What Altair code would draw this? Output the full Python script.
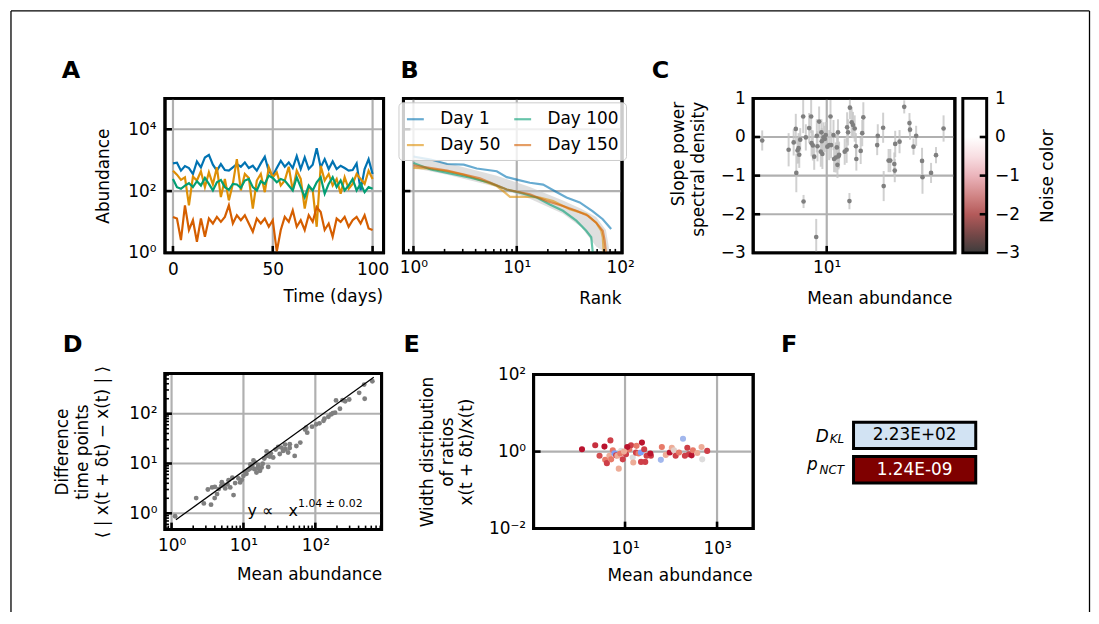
import altair as alt
import pandas as pd

W, H = 1090, 606
FONT = "DejaVu Sans"
GRID = "#b0b0b0"
FS = 17
U = alt.Undefined

# ---------------- Panel A : abundance time series ----------------
A_days = list(range(0, 101, 2))
A_sp1 = [786, 826, 458, 644, 557, 357, 911, 585, 1224, 1489, 713, 458, 748, 481, 458, 585, 748, 614, 846, 557,
         662, 458, 786, 1285, 436, 316, 557, 957, 614, 846, 557, 1349, 517, 1224, 517, 713, 2437, 585, 1082, 517,
         911, 517, 662, 557, 458, 481, 786, 105, 517, 1082, 357]
A_sp2 = [458, 340, 230, 280, 34.5, 294, 219, 436, 134, 404, 163, 585, 64, 247, 50, 171, 1082, 105, 357, 266,
         27, 219, 357, 92, 585, 280, 404, 151, 219, 614, 105, 458, 247, 27, 134, 105, 7.0, 662, 219, 357,
         151, 247, 82, 280, 118, 171, 357, 247, 171, 458, 247]
A_sp3 = [247, 134, 118, 151, 180, 134, 208, 151, 266, 171, 105, 193, 230, 134, 110, 171, 163, 127, 219, 247,
         134, 105, 208, 171, 316, 266, 193, 247, 219, 151, 105, 280, 134, 64, 151, 105, 193, 280, 82, 171,
         280, 134, 219, 105, 151, 247, 105, 171, 92, 134, 118]
A_sp4 = [14.6, 12.9, 2.6, 34.5, 5.5, 11.4, 2.3, 12.9, 3.3, 12.9, 8.9, 14.6, 10.1, 14.6, 34.5, 8.9, 16.5, 11.4,
         16.5, 8.9, 4.8, 12.9, 8.9, 12.9, 7.0, 11.4, 1.1, 5.5, 14.6, 10.1, 23.9, 7.0, 11.4, 5.5, 16.5, 10.1,
         30.5, 21.1, 5.5, 8.9, 3.3, 12.9, 10.1, 14.6, 7.0, 11.4, 14.6, 8.9, 16.5, 6.2, 5.5]
A_names = ["sp1", "sp2", "sp3", "sp4"]
PALETTE = ["#0173b2", "#de8f05", "#029e73", "#d55e00"]

# ---------------- Panel B : rank abundance ----------------
B_days = ["Day 1", "Day 50", "Day 100", "Day 150"]
B_rank_1 = [1, 1.47, 2.12, 3.07, 4.1, 6.4, 8.0, 10, 13.4, 18, 24.2, 30.3, 40.7, 54.5, 68, 82]
B_val_1 = [1318, 1047, 750, 716, 537, 437, 282, 234, 186, 162, 93, 62, 43, 22, 12.3, 5.9]
B_rank_50 = [1, 1.36, 2.12, 3.07, 4.78, 6.4, 7.4, 8.6, 13.4, 16.7, 22.5, 32.5, 47, 58.7, 65.7, 68, 69.5]
B_val_50 = [562, 537, 437, 339, 209, 145, 100, 65, 65, 62, 48, 26, 17.8, 9.5, 5.2, 3.2, 1.0]
B_rank_100 = [1, 1.47, 2.12, 3.56, 5.5, 8.0, 10.7, 15.6, 20.9, 28, 37.7, 47, 52.6, 54.5]
B_val_100 = [813, 501, 389, 269, 186, 112, 89, 62, 37, 23, 11, 5.2, 3.2, 1.0]
B_rank_150 = [1, 2.12, 4.4, 8.0, 13.4, 19.4, 28, 37.7, 49, 58.7, 68, 71, 73]
B_val_150 = [676, 457, 257, 112, 78, 48, 33, 23, 15.8, 9.5, 5.2, 2.5, 1.0]
B_band_rank = [1, 2.12, 6.4, 13.4, 28, 42, 58.7, 73, 78]
B_band_lo = [562, 339, 135, 56, 18.6, 6.9, 1.6, 1.0, 1.0]
B_band_hi = [1318, 813, 316, 135, 50, 27, 14.5, 5.5, 1.5]

# ---------------- Panel C : PSD slope ----------------
C_mean = [3.69, 5.55, 6.0, 6.2, 6.25, 6.37, 6.47, 6.54, 6.64, 6.95, 6.99, 7.24, 7.62, 7.86, 7.91, 8.07, 8.24,
          8.58, 8.67, 8.89, 9.12, 9.21, 9.26, 9.35, 9.5, 9.7, 9.85, 10.1, 10.4, 10.6, 10.7, 11.1, 11.2, 11.5,
          11.7, 11.8, 11.9, 12.0, 12.1, 8.5, 13.2, 13.6, 13.7, 13.9, 14.2, 14.3, 14.7, 15.0, 15.4, 15.7, 15.8,
          16.9, 17.3, 17.6, 21.8, 22.0, 23.9, 24.1, 26.0, 26.7, 28.4, 28.6, 28.8, 30.8, 33.1, 35.9, 36.2, 38.2,
          39.8, 43.6, 43.9, 50.1, 54.1, 60.8]
C_slope = [-0.09, -0.33, -0.14, 0.21, -0.93, -0.35, -0.29, -0.46, -0.07, 0.53, -1.67, -0.01, 0.23, 0.53, -0.16,
           -0.22, -0.51, 0.03, -0.24, 0.40, -0.38, 0.12, -0.11, -0.44, -0.01, -0.05, 0.05, -0.25, -0.21, 0.53,
           -0.21, 0.05, -0.57, -0.53, -0.27, -0.72, 0.12, -0.50, -0.46, -2.59, -0.38, -0.33, 0.25, 0.12, -1.66,
           0.76, 0.38, 0.31, 0.22, -0.24, -0.57, -0.36, 0.10, 0.51, -0.21, 0.03, 0.24, -1.27, -0.61, -0.61,
           -0.70, -0.87, -0.18, -0.12, 0.78, 0.36, 0.19, -0.25, 0.03, -0.62, -1.04, -0.93, -0.47, 0.22]
C_err = [0.26, 0.43, 0.34, 0.39, 0.50, 0.34, 0.39, 0.34, 0.30, 0.43, 0.17, 0.34, 0.39, 0.43, 0.34, 0.39, 0.34,
         0.43, 0.39, 0.39, 0.39, 0.34, 0.34, 0.39, 0.39, 0.34, 0.34, 0.34, 0.39, 0.43, 0.34, 0.39, 0.34, 0.39,
         0.34, 0.34, 0.34, 0.34, 0.34, 0.47, 0.34, 0.34, 0.39, 0.34, 0.21, 0.30, 0.39, 0.34, 0.34, 0.34, 0.30,
         0.34, 0.34, 0.39, 0.26, 0.30, 0.39, 0.39, 0.30, 0.30, 0.30, 0.30, 0.34, 0.30, 0.17, 0.26, 0.26, 0.21,
         0.26, 0.34, 0.43, 0.26, 0.21, 0.34]
CB_stops = [(0.0, "#3c3c3c"), (0.12, "#764848"), (0.25, "#b45a5a"), (0.36, "#cf8282"), (0.5, "#ebb4bb"),
            (0.62, "#f8dde1"), (0.75, "#ffffff"), (1.0, "#ffffff")]

# ---------------- Panel D : Taylor law ----------------
D_mean = [1.12, 2.2, 2.81, 3.54, 3.66, 3.98, 4.29, 4.52, 4.92, 5.3, 5.58, 6.21, 6.55, 7.28, 7.67, 8.53, 8.99,
          10.0, 10.5, 11.7, 12.4, 13.3, 14.2, 14.5, 15.2, 16.1, 17.0, 17.9, 19.5, 20.9, 22.1, 23.3, 25.9, 30.4,
          33.8, 35.6, 38.3, 41.8, 44.1, 51.6, 54.5, 61.8, 74.6, 77.1, 103, 114, 134, 152, 165, 188, 194, 220,
          239, 296, 407, 478, 486, 621,
          3.2, 4.0, 5.0, 6.0, 7.0, 9.5, 11.0, 12.5, 13.8, 15.8, 18.5, 21.0, 24.0, 28.0, 32.0, 38.0, 44.0, 72.0,
          90.0, 130, 175, 260]
D_diff = [0.87, 2.02, 1.58, 1.49, 3.31, 2.02, 2.43, 3.06, 3.56, 3.73, 3.16, 4.63, 3.31, 2.32, 4.04, 5.01, 4.17,
          5.65, 6.79, 7.45, 7.94, 8.95, 7.69, 10.5, 6.61, 9.38, 7.11, 8.32, 12.6, 14.2, 8.55, 13.8, 13.2, 21.5,
          20.9, 17.9, 19.3, 16.6, 24.3, 14.2, 22.5, 26.3, 52.5, 41.7, 61.1, 64.0, 79.4, 87.1, 96.8, 105, 185,
          126, 187, 193, 263, 385, 200, 449,
          3.0, 3.4, 4.2, 3.8, 5.2, 4.7, 6.2, 9.6, 11.5, 8.2, 9.9, 17.5, 16.0, 19.0, 15.5, 24.0, 20.5, 48.0,
          55.0, 72.0, 102, 178]
D_fit_x = [1.15, 650]
D_fit_y = [0.74, 538]

# ---------------- Panel E : width of ratio distribution ----------------
E_mean = [1.16, 2.25, 2.79, 3.57, 3.70, 4.03, 4.57, 4.81, 5.42, 5.87, 6.40, 6.82, 7.31, 8.20, 8.91, 10.5, 12.4,
          13.5, 14.7, 15.1, 17.3, 19.7, 22.1, 23.3, 26.1, 27.5, 29.4, 22.3, 36.5, 60.0, 63.1, 76.9, 93.8, 104,
          116, 126, 149, 182, 200, 226, 245, 280, 299, 372, 460, 476, 611, 7.9, 11.2, 5.0, 17.8, 35.5, 9.5]
E_width = [1.15, 1.46, 0.78, 1.35, 0.61, 0.50, 0.78, 1.95, 1.08, 0.90, 0.80, 0.78, 0.36, 1.04, 0.63, 0.85, 1.15,
           1.46, 0.70, 0.52, 0.94, 0.89, 0.95, 1.71, 1.15, 0.54, 0.78, 0.54, 0.78, 0.61, 1.32, 0.82, 0.95, 1.26,
           1.08, 0.78, 0.95, 2.16, 0.78, 1.26, 0.85, 0.80, 1.08, 0.92, 1.32, 0.63, 1.04, 0.89, 1.32, 0.63, 1.41,
           0.89, 1.0]
E_color = [0.95, 0.85, 0.75, 0.95, 0.6, 0.8, 0.35, 0.8, 0.6, -0.5, 0.8, 0.35, 0.35, 0.0, 0.8, 0.8, 0.6, 0.8, 0.0,
           0.35, 0.8, 0.6, -0.5, 0.95, 0.8, 0.8, 0.8, 0.8, 0.8, -0.3, 0.6, 0.35, 0.95, 0.35, 0.1, 0.8, 0.6, -0.3,
           0.8, 0.8, 0.8, 0.95, 0.6, 0.35, 0.35, 0.0, 0.8, 0.6, 0.95, 0.6, 0.6, 0.95, 0.35]

# ---------------- Panel F : statistics ----------------
F_keys = ["D_KL", "p_NCT"]
F_main = ["D", "p"]
F_sub = ["KL", "NCT"]
F_vals = ["2.23E+02", "1.24E-09"]
F_fill = ["#d2e3f3", "#7f0000"]
F_textc = ["black", "white"]

LETTERS = ["A", "B", "C", "D", "E", "F"]

SUP = ("'10' + (datum.value < 1 ? '\u207b' : '') + substring('\u2070\u00b9\u00b2\u00b3\u2074\u2075\u2076\u2077\u2078\u2079', "
       "abs(round(log(datum.value)/LN10)), abs(round(log(datum.value)/LN10)) + 1)")


def S(typ, dom, rng):
    if typ == "log":
        return alt.Scale(type="log", domain=dom, range=rng, nice=False)
    return alt.Scale(type="linear", domain=dom, range=rng, nice=False, zero=False)


def ax_bottom(pb, values, title, tx, ty, pad=8, expr=None):
    d = dict(orient="bottom", offset=pb - H, values=values, ticks=False, domain=False, grid=False,
             labelPadding=pad, labelFlush=False, labelOverlap=False, labelBound=False,
             title=title, titleX=tx, titleY=ty, titleAlign="right", titleBaseline="middle", titleAngle=0)
    if expr:
        d["labelExpr"] = expr
    return alt.Axis(**d)


def ax_left(pl, values, title, tx, ty, pad=8, expr=None, align="center", fmt=None):
    d = dict(orient="left", offset=-pl, values=values, ticks=False, domain=False, grid=False,
             labelPadding=pad, labelFlush=False, labelOverlap=False, labelBound=False,
             title=title, titleX=tx, titleY=ty, titleAngle=270, titleAlign=align, titleBaseline="middle",
             titleLineHeight=20)
    if expr:
        d["labelExpr"] = expr
    if fmt:
        d["format"] = fmt
    return alt.Axis(**d)


def frame(xs, ys, xdom, ydom, xax, yax):
    df = pd.DataFrame({"x0": [xdom[0]], "x1": [xdom[1]], "y0": [ydom[0]], "y1": [ydom[1]]})
    return alt.Chart(df).mark_rect(fillOpacity=0, stroke="black", strokeWidth=3).encode(
        x=alt.X("x0:Q", scale=xs, axis=xax), x2=alt.X2("x1"),
        y=alt.Y("y0:Q", scale=ys, axis=yax), y2=alt.Y2("y1"))


def vgrid(vals, xs, ys, ydom, xa=U, ya=U):
    df = pd.DataFrame({"g": vals, "y0": ydom[0], "y1": ydom[1]})
    return alt.Chart(df).mark_rule(color=GRID, strokeWidth=2.2).encode(
        x=alt.X("g:Q", scale=xs, axis=xa), y=alt.Y("y0:Q", scale=ys, axis=ya), y2=alt.Y2("y1"))


def hgrid(vals, xs, ys, xdom, xa=U, ya=U):
    df = pd.DataFrame({"g": vals, "x0": xdom[0], "x1": xdom[1]})
    return alt.Chart(df).mark_rule(color=GRID, strokeWidth=2.2).encode(
        y=alt.Y("g:Q", scale=ys, axis=ya), x=alt.X("x0:Q", scale=xs, axis=xa), x2=alt.X2("x1"))


def xticks(vals, xs, ys, yv, size=7, thick=2.6, up=True, xa=U, ya=U):
    df = pd.DataFrame({"t": vals, "y": yv})
    return alt.Chart(df).mark_tick(orient="vertical", size=size, thickness=thick, color="black", opacity=1,
                                   yOffset=(-size / 2 if up else size / 2)).encode(
        x=alt.X("t:Q", scale=xs, axis=xa), y=alt.Y("y:Q", scale=ys, axis=ya))


def yticks(vals, xs, ys, xv, size=7, thick=2.6, right=True, xa=U, ya=U):
    df = pd.DataFrame({"t": vals, "x": xv})
    return alt.Chart(df).mark_tick(orient="horizontal", size=size, thickness=thick, color="black", opacity=1,
                                   xOffset=(size / 2 if right else -size / 2)).encode(
        y=alt.Y("t:Q", scale=ys, axis=ya), x=alt.X("x:Q", scale=xs, axis=xa))


layers = []

# ---- Panel A ----
ax_dom, ay_dom = [-4, 105.5], [1, 1e5]
axs, ays = S("linear", ax_dom, [158, 378]), S("log", ay_dom, [244.5, 89])
A_df = pd.DataFrame({"t": A_days * 4, "v": A_sp1 + A_sp2 + A_sp3 + A_sp4,
                     "sp": sum([[n] * len(A_days) for n in A_names], [])})
layers.append(alt.layer(
    frame(axs, ays, ax_dom, ay_dom,
          ax_bottom(244.5, [0, 50, 100], "Time (days)", 377, 44, pad=9),
          ax_left(158, [1, 100, 10000], "Abundance", -61.5, 166.75, pad=9, expr=SUP)),
    vgrid([0, 50, 100], axs, ays, ay_dom),
    hgrid([100, 10000], axs, ays, ax_dom),
    alt.Chart(A_df).mark_line(strokeWidth=2.2).encode(
        x=alt.X("t:Q", scale=axs), y=alt.Y("v:Q", scale=ays),
        color=alt.Color("sp:N", scale=alt.Scale(domain=A_names, range=PALETTE), legend=None)),
    frame(axs, ays, ax_dom, ay_dom, U, U),
    xticks([0, 50, 100], axs, ays, ay_dom[0]),
    yticks([100, 10000], axs, ays, ax_dom[0]),
))

# ---- Panel B ----
bx_dom, by_dom = [0.8, 104.5], [1, 1e5]
bxs, bys = S("log", bx_dom, [398, 618]), S("log", by_dom, [244.5, 89])
B_df = pd.DataFrame({
    "rank": B_rank_1 + B_rank_50 + B_rank_100 + B_rank_150,
    "v": B_val_1 + B_val_50 + B_val_100 + B_val_150,
    "day": (["Day 1"] * len(B_rank_1) + ["Day 50"] * len(B_rank_50) + ["Day 100"] * len(B_rank_100)
            + ["Day 150"] * len(B_rank_150))})
B_band = pd.DataFrame({"rank": B_band_rank, "lo": B_band_lo, "hi": B_band_hi})
legB = alt.Legend(orient="none", legendX=393, legendY=93, columns=2, title=None, symbolType="stroke",
                  symbolSize=289, symbolStrokeWidth=2.2, symbolOpacity=0.6, labelFontSize=FS, labelFont=FONT,
                  labelColor="black", labelOffset=15, columnPadding=9, rowPadding=8, padding=7,
                  fillColor="rgba(255,255,255,0.8)", strokeColor="#cccccc", cornerRadius=4)
layers.append(alt.layer(
    frame(bxs, bys, bx_dom, by_dom,
          ax_bottom(244.5, [1, 10, 100], "Rank", 617, 45.5, pad=7, expr=SUP), None),
    vgrid([1, 10], bxs, bys, by_dom, ya=None),
    hgrid([100, 10000], bxs, bys, bx_dom, ya=None),
    alt.Chart(B_band).mark_area(color="#c0c0c0", opacity=0.5).encode(
        x=alt.X("rank:Q", scale=bxs), y=alt.Y("lo:Q", scale=bys, axis=None), y2=alt.Y2("hi")),
    alt.Chart(B_df).mark_line(strokeWidth=2.2, opacity=0.6).encode(
        x=alt.X("rank:Q", scale=bxs), y=alt.Y("v:Q", scale=bys, axis=None),
        color=alt.Color("day:N", scale=alt.Scale(domain=B_days, range=PALETTE), legend=legB)),
    frame(bxs, bys, bx_dom, by_dom, U, None),
    xticks([1, 10], bxs, bys, by_dom[0], ya=None),
    xticks([0.9, 2, 3, 4, 5, 6, 7, 8, 9, 20, 30, 40, 50, 60, 70, 80, 90], bxs, bys, by_dom[0], size=4,
           thick=1.6, ya=None),
    yticks([100, 10000], bxs, bys, bx_dom[0], ya=None),
))

# ---- Panel C ----
cx_dom, cy_dom = [3.21, 72.4], [-3, 1]
cxs, cys = S("log", cx_dom, [750, 953]), S("linear", cy_dom, [244.5, 89])
C_df = pd.DataFrame({"m": C_mean, "s": C_slope,
                     "lo": [max(-3, s - e) for s, e in zip(C_slope, C_err)],
                     "hi": [min(1, s + e) for s, e in zip(C_slope, C_err)]})
layers.append(alt.layer(
    frame(cxs, cys, cx_dom, cy_dom,
          ax_bottom(244.5, [10], "Mean abundance", 950, 45.8, pad=7, expr=SUP),
          ax_left(750, [-3, -2, -1, 0, 1], ["Slope power", "spectral density"], -75, 92, pad=8,
                  align="right", fmt="d")),
    vgrid([10], cxs, cys, cy_dom),
    hgrid([-2, -1, 0], cxs, cys, cx_dom),
    alt.Chart(C_df).mark_rule(color="#c4c4c4", strokeWidth=2, opacity=0.8).encode(
        x=alt.X("m:Q", scale=cxs), y=alt.Y("lo:Q", scale=cys), y2=alt.Y2("hi")),
    alt.Chart(C_df).mark_circle(size=22, color="#7f7f7f", opacity=1).encode(
        x=alt.X("m:Q", scale=cxs), y=alt.Y("s:Q", scale=cys)),
    frame(cxs, cys, cx_dom, cy_dom, U, U),
    xticks([10], cxs, cys, cy_dom[0]),
    yticks([-2, -1, 0], cxs, cys, cx_dom[0]),
))

# ---- Colorbar ----
cbxs, cbys = S("linear", [0, 1], [961, 985]), S("linear", cy_dom, [244.5, 89])
grad = alt.LinearGradient(gradient="linear", x1=0, x2=0, y1=1, y2=0,
                          stops=[alt.GradientStop(color=c, offset=o) for o, c in CB_stops])
cb_axis = alt.Axis(orient="right", offset=985 - W, values=[-3, -2, -1, 0, 1], format="d", ticks=False,
                   domain=False, grid=False, labelPadding=8, labelFlush=False, labelOverlap=False,
                   title="Noise color", titleX=61, titleY=166.75, titleAngle=270, titleAlign="center",
                   titleBaseline="middle")
layers.append(alt.layer(
    alt.Chart(pd.DataFrame({"x0": [0], "x1": [1], "y0": [-3], "y1": [1]})).mark_rect(
        fill=grad, stroke="black", strokeWidth=3).encode(
        x=alt.X("x0:Q", scale=cbxs, axis=None), x2=alt.X2("x1"),
        y=alt.Y("y0:Q", scale=cbys, axis=cb_axis), y2=alt.Y2("y1")),
    yticks([-2, -1, 0], cbxs, cbys, 1, right=False, xa=None),
))

# ---- Panel D ----
dx_dom, dy_dom = [0.81, 835], [0.47, 640]
dxs, dys = S("log", dx_dom, [158, 376]), S("log", dy_dom, [523, 366])
D_df = pd.DataFrame({"m": D_mean, "d": D_diff})
D_fit = pd.DataFrame({"x": D_fit_x, "y": D_fit_y})
D_minor_y = [0.5, 0.6, 0.7, 0.8, 0.9, 2, 3, 4, 5, 6, 7, 8, 9, 20, 30, 40, 50, 60, 70, 80, 90,
             200, 300, 400, 500, 600]
D_minor_x = [0.9, 2, 3, 4, 5, 6, 7, 8, 9, 20, 30, 40, 50, 60, 70, 80, 90, 200, 300, 400, 500, 600, 700, 800]
NB = "\u00a0"
layers.append(alt.layer(
    frame(dxs, dys, dx_dom, dy_dom,
          ax_bottom(523, [1, 10, 100], "Mean abundance", 376, 45.7, pad=8, expr=SUP),
          ax_left(158, [1, 10, 100], ["Difference", "time points",
                                      "\u27e8 | x(t + \u03b4t) \u2212 x(t) | \u27e9"], -103, 444.5, pad=8,
                  expr=SUP)),
    vgrid([1, 10, 100], dxs, dys, dy_dom),
    hgrid([1, 10, 100], dxs, dys, dx_dom),
    alt.Chart(D_df).mark_circle(size=24, color="#7f7f7f", opacity=1).encode(
        x=alt.X("m:Q", scale=dxs), y=alt.Y("d:Q", scale=dys)),
    alt.Chart(D_fit).mark_line(color="black", strokeWidth=1.3).encode(
        x=alt.X("x:Q", scale=dxs), y=alt.Y("y:Q", scale=dys)),
    alt.Chart(pd.DataFrame({"x": [11.4], "y": [0.895], "t": ["y" + NB + "\u221d" + NB * 3 + "x"]})).mark_text(
        align="left", baseline="alphabetic", fontSize=16, font=FONT, color="black").encode(
        x=alt.X("x:Q", scale=dxs), y=alt.Y("y:Q", scale=dys), text="t:N"),
    alt.Chart(pd.DataFrame({"x": [57.4], "y": [1.53], "t": ["1.04 \u00b1 0.02"]})).mark_text(
        align="left", baseline="middle", fontSize=11, font=FONT, color="black").encode(
        x=alt.X("x:Q", scale=dxs), y=alt.Y("y:Q", scale=dys), text="t:N"),
    frame(dxs, dys, dx_dom, dy_dom, U, U),
    xticks([1, 10, 100], dxs, dys, dy_dom[0]),
    xticks(D_minor_x, dxs, dys, dy_dom[0], size=4, thick=1.6),
    yticks([1, 10, 100], dxs, dys, dx_dom[0]),
    yticks(D_minor_y, dxs, dys, dx_dom[0], size=4, thick=1.6),
))

# ---- Panel E ----
ex_dom, ey_dom = [0.103, 6100], [0.01, 100]
exs, eys = S("log", ex_dom, [529, 750]), S("log", ey_dom, [522, 367])
E_df = pd.DataFrame({"m": E_mean, "w": E_width, "c": E_color})
layers.append(alt.layer(
    frame(exs, eys, ex_dom, ey_dom,
          ax_bottom(522, [10, 1000], "Mean abundance", 749, 47.5, pad=12, expr=SUP),
          ax_left(529, [0.01, 1, 100], ["Width distribution", "of ratios", "x(t + \u03b4t)/x(t)"],
                  -107, 444.5, pad=8, expr=SUP)),
    vgrid([10, 1000], exs, eys, ey_dom),
    hgrid([1], exs, eys, ex_dom),
    alt.Chart(E_df).mark_circle(size=38, opacity=1).encode(
        x=alt.X("m:Q", scale=exs), y=alt.Y("w:Q", scale=eys),
        color=alt.Color("c:Q", scale=alt.Scale(domain=[-1, -0.5, 0, 0.5, 1],
                                               range=["#3b4cc0", "#7b9ff9", "#dddcdc", "#f4987a", "#b40426"],
                                               interpolate="rgb"), legend=None)),
    frame(exs, eys, ex_dom, ey_dom, U, U),
    xticks([10, 1000], exs, eys, ey_dom[0]),
    yticks([1], exs, eys, ex_dom[0]),
))

# ---- Panel F ----
fxs = S("linear", [0, 1], [851, 974])
fys = alt.Scale(type="band", domain=F_keys, range=[415, 476], paddingInner=0.232, paddingOuter=0)
F_main_dx, F_main_dy = [-25, -36], [7, 0.5]
F_sub_dy = [8, 4.5]
f_layers = []
for i in range(len(F_keys)):
    df = pd.DataFrame({"k": [F_keys[i]], "x0": [0], "x1": [1], "xc": [0.5], "v": [F_vals[i]],
                       "m": [F_main[i]], "s": [F_sub[i]]})
    base = alt.Chart(df)
    X0 = alt.X("x0:Q", scale=fxs, axis=None)
    Yk = alt.Y("k:N", scale=fys, axis=None)
    f_layers += [
        base.mark_rect(fill=F_fill[i], stroke="black", strokeWidth=3).encode(x=X0, x2=alt.X2("x1"), y=Yk),
        base.mark_text(color=F_textc[i], fontSize=FS, font=FONT, baseline="middle").encode(
            x=alt.X("xc:Q", scale=fxs, axis=None), y=Yk, text="v:N"),
        base.mark_text(color="black", fontSize=FS, font=FONT, fontStyle="italic", align="right",
                       baseline="alphabetic", dx=F_main_dx[i], dy=F_main_dy[i]).encode(x=X0, y=Yk, text="m:N"),
        base.mark_text(color="black", fontSize=12, font=FONT, fontStyle="italic", align="right",
                       baseline="alphabetic", dx=-9.5, dy=F_sub_dy[i]).encode(x=X0, y=Yk, text="s:N"),
    ]
layers.append(alt.layer(*f_layers))

# ---- panel letters ----
let_df = pd.DataFrame({"L": LETTERS, "px": [54, 395, 648, 55, 398, 778], "py": [68, 68, 68, 344, 344, 344]})
layers.append(alt.Chart(let_df).mark_text(align="left", baseline="alphabetic", fontSize=24, fontWeight="bold",
                                          font=FONT, color="black").encode(
    x=alt.X("px:Q", scale=None, axis=None), y=alt.Y("py:Q", scale=None, axis=None), text="L:N"))

# ---- figure border ----
one = pd.DataFrame({"a": [0]})
layers += [
    alt.Chart(one).mark_rule(color="black", strokeWidth=1.3).encode(x=alt.value(3), y=alt.value(1), y2=alt.value(H)),
    alt.Chart(one).mark_rule(color="black", strokeWidth=1.3).encode(x=alt.value(1088.5), y=alt.value(1), y2=alt.value(H)),
    alt.Chart(one).mark_rule(color="black", strokeWidth=1.3).encode(x=alt.value(3), x2=alt.value(1088.5), y=alt.value(1)),
]

chart = alt.layer(*layers).resolve_scale(
    x="independent", y="independent", color="independent"
).properties(
    width=W, height=H, autosize=alt.AutoSizeParams(type="none"), padding=0
).configure_view(strokeWidth=0).configure_axis(
    labelFont=FONT, labelFontSize=FS, labelColor="black", titleFont=FONT, titleFontSize=FS,
    titleFontWeight="normal", titleColor="black"
)

chart.save("out.html", embed_options={"renderer": "svg", "actions": False})
